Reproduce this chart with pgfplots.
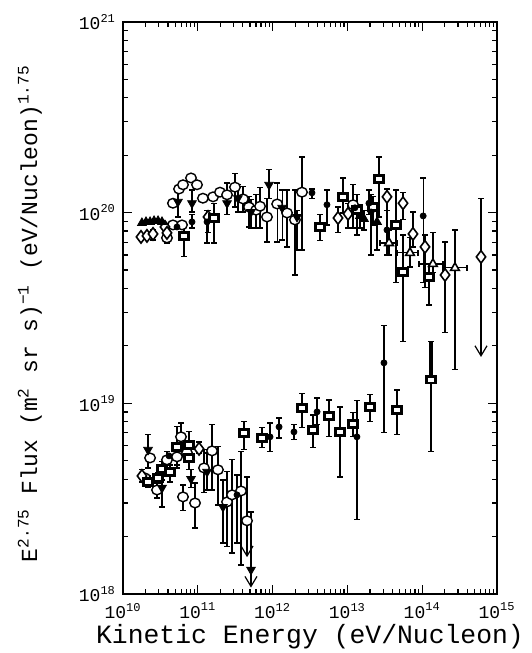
\documentclass[border=0pt]{standalone}
\usepackage{fontspec}
\setmainfont{Liberation Mono}
\usepackage{pgfplots}
\pgfplotsset{compat=1.18}
\usetikzlibrary{arrows.meta}
\begin{document}
\begin{tikzpicture}
\useasboundingbox (-61.5pt,-29.5pt) rectangle (204pt,297pt);
\begin{axis}[
  at={(0,0)}, anchor=south west,
  scale only axis, width=187pt, height=286pt,
  xmode=log, ymode=log,
  xmin=1e10, xmax=1e15, ymin=1e18, ymax=1e21,
  xtick={1e10,1e11,1e12,1e13,1e14,1e15},
  xticklabels={10\textsuperscript{10},10\textsuperscript{11},10\textsuperscript{12},10\textsuperscript{13},10\textsuperscript{14},10\textsuperscript{15}},
  minor xtick={2e10,3e10,4e10,5e10,6e10,7e10,8e10,9e10,2e11,3e11,4e11,5e11,6e11,7e11,8e11,9e11,2e12,3e12,4e12,5e12,6e12,7e12,8e12,9e12,2e13,3e13,4e13,5e13,6e13,7e13,8e13,9e13,2e14,3e14,4e14,5e14,6e14,7e14,8e14,9e14},
  ytick={1e18,1e19,1e20,1e21},
  yticklabels={10\textsuperscript{18},10\textsuperscript{19},10\textsuperscript{20},10\textsuperscript{21}},
  minor ytick={2e18,3e18,4e18,5e18,6e18,7e18,8e18,9e18,2e19,3e19,4e19,5e19,6e19,7e19,8e19,9e19,2e20,3e20,4e20,5e20,6e20,7e20,8e20,9e20},
  tick label style={font=\fontsize{9}{10}\selectfont},
  xticklabel style={yshift=-1pt},
  axis line style={line width=0.8pt},
  major tick length=4.5pt, minor tick length=2.5pt,
  every tick/.style={black, line width=0.6pt},
  xlabel={Kinetic Energy (eV/Nucleon)},
  ylabel={E\textsuperscript{2.75} Flux (m\textsuperscript{2} sr s)\textsuperscript{−1} (eV/Nucleon)\textsuperscript{1.75}},
  xlabel style={at={(axis description cs:0.5,-0.074)}, anchor=center, font=\fontsize{13.2}{15}\selectfont},
  ylabel style={at={(axis description cs:-0.249,0.49)}, anchor=center, font=\fontsize{11.5}{13}\selectfont},
  circ/.style={only marks, mark=*, mark size=2.4pt, mark options={fill=white, draw=black, line width=0.7pt, xscale=1.1}},
  dtri/.style={only marks, mark=triangle*, mark size=2.5pt, mark options={rotate=180, fill=black, draw=black}},
  utri/.style={only marks, mark=triangle*, mark size=2.5pt, mark options={fill=black, draw=black}},
  otri/.style={only marks, mark=triangle*, mark size=2.5pt, mark options={fill=white, draw=black, line width=0.8pt}},
  diam/.style={only marks, mark=diamond*, mark size=3.1pt, mark options={fill=white, draw=black, line width=0.8pt}},
  sqr/.style={only marks, mark=square*, mark size=1.7pt, mark options={fill=white, draw=black, line width=1.3pt, xscale=1.3}},
  fcirc/.style={only marks, mark=*, mark size=1.5pt, mark options={fill=black, draw=black}},
  ebar/.style={black, line width=0.6pt, mark=-, mark size=1.4pt, mark options={solid, line width=0.6pt}, unbounded coords=jump},
]
% ---------- vertical error bars (upper group) ----------
\addplot[ebar] coordinates {
(3.87e10,7.83e19) (3.87e10,6.93e19) (3.87e10,nan)
(2.46e11,1.43e20) (2.46e11,9.73e19) (2.46e11,nan)
(3.14e11,1.61e20) (3.14e11,1.07e20) (3.14e11,nan)
(4.02e11,1.37e20) (4.02e11,1.008e20) (4.02e11,nan)
(4.83e11,1.21e20) (4.83e11,8.41e19) (4.83e11,nan)
(6.00e11,1.24e20) (6.00e11,8.31e19) (6.00e11,nan)
(6.79e11,1.35e20) (6.79e11,8.31e19) (6.79e11,nan)
(8.41e11,1.19e20) (8.41e11,7.01e19) (8.41e11,nan)
(1.15e12,1.43e20) (1.15e12,7.01e19) (1.15e12,nan)
(1.56e12,1.315e20) (1.56e12,6.61e19) (1.56e12,nan)
(1.99e12,1.315e20) (1.99e12,4.71e19) (1.99e12,nan)
(2.47e12,1.96e20) (2.47e12,6.37e19) (2.47e12,nan)
(1.19e13,1.40e20) (1.19e13,8.31e19) (1.19e13,nan)
(5.43e10,1.315e20) (5.43e10,9.49e19) (5.43e10,nan)
(8.36e10,1.315e20) (8.36e10,1.008e20) (8.36e10,nan)
(3.44e11,1.40e20) (3.44e11,1.008e20) (3.44e11,nan)
(5.14e11,1.17e20) (5.14e11,8.31e19) (5.14e11,nan)
(8.96e11,1.69e20) (8.96e11,1.19e20) (8.96e11,nan)
(1.34e12,1.315e20) (1.34e12,7.19e19) (1.34e12,nan)
(2.12e12,1.03e20) (2.12e12,6.37e19) (2.12e12,nan)
(2.52e10,8.11e19) (2.52e10,7.19e19) (2.52e10,nan)
(1.37e11,1.03e20) (1.37e11,7.83e19) (1.37e11,nan)
(7.49e12,1.07e20) (7.49e12,7.83e19) (7.49e12,nan)
(1.02e13,1.12e20) (1.02e13,8.31e19) (1.02e13,nan)
(3.38e13,1.33e20) (3.38e13,1.03e20) (3.38e13,nan)
(5.54e13,1.28e20) (5.54e13,9.16e19) (5.54e13,nan)
(7.53e13,1.008e20) (7.53e13,6.61e19) (7.53e13,nan)
(1.09e14,7.64e19) (1.09e14,4.03e19) (1.09e14,nan)
(2.02e14,7.01e19) (2.02e14,2.34e19) (2.02e14,nan)
(1.47e13,1.10e20) (1.47e13,8.31e19) (1.47e13,nan)
(1.67e13,1.03e20) (1.67e13,8.11e19) (1.67e13,nan)
(2.49e13,1.10e20) (2.49e13,6.37e19) (2.49e13,nan)
(3.60e13,8.11e19) (3.60e13,6.00e19) (3.60e13,nan)
(6.87e13,7.37e19) (6.87e13,5.19e19) (6.87e13,nan)
(1.39e14,7.83e19) (1.39e14,4.83e19) (1.39e14,nan)
(2.74e14,8.11e19) (2.74e14,1.50e19) (2.74e14,nan)
(6.54e10,8.41e19) (6.54e10,5.86e19) (6.54e10,nan)
(1.65e11,1.12e20) (1.65e11,6.93e19) (1.65e11,nan)
(4.31e12,9.73e19) (4.31e12,7.11e19) (4.31e12,nan)
(8.73e12,1.52e20) (8.73e12,9.96e19) (8.73e12,nan)
(1.34e13,1.24e20) (1.34e13,7.64e19) (1.34e13,nan)
(2.20e13,1.21e20) (2.20e13,8.62e19) (2.20e13,nan)
(2.64e13,1.96e20) (2.64e13,9.49e19) (2.64e13,nan)
(4.47e13,1.315e20) (4.47e13,4.28e19) (4.47e13,nan)
(5.54e13,7.64e19) (5.54e13,2.10e19) (5.54e13,nan)
(1.23e14,5.32e19) (1.23e14,3.28e19) (1.23e14,nan)
(8.36e10,9.73e19) (8.36e10,8.31e19) (8.36e10,nan)
(1.33e11,1.03e20) (1.33e11,6.93e19) (1.33e11,nan)
(3.36e12,1.33e20) (3.36e12,1.19e20) (3.36e12,nan)
(5.33e12,1.315e20) (5.33e12,8.62e19) (5.33e12,nan)
(1.94e13,1.315e20) (1.94e13,9.73e19) (1.94e13,nan)
(2.07e13,1.24e20) (2.07e13,6.00e19) (2.07e13,nan)
(3.38e13,1.03e20) (3.38e13,6.00e19) (3.38e13,nan)
(1.03e14,1.52e20) (1.03e14,4.28e19) (1.03e14,nan)
};
% ---------- vertical error bars (lower group) ----------
\addplot[ebar] coordinates {
(1.79e10,4.48e18) (1.79e10,3.87e18) (1.79e10,nan)
(2.16e10,4.16e18) (2.16e10,3.60e18) (2.16e10,nan)
(2.16e10,6.83e18) (2.16e10,4.58e18) (2.16e10,nan)
(2.85e10,3.82e18) (2.85e10,3.19e18) (2.85e10,nan)
(2.94e10,4.32e18) (2.94e10,3.82e18) (2.94e10,nan)
(3.32e10,3.96e18) (3.32e10,2.86e18) (3.32e10,nan)
(3.32e10,4.93e18) (3.32e10,4.21e18) (3.32e10,nan)
(3.87e10,5.56e18) (3.87e10,4.58e18) (3.87e10,nan)
(4.25e10,4.75e18) (4.25e10,3.87e18) (4.25e10,nan)
(5.27e10,5.91e18) (5.27e10,4.58e18) (5.27e10,nan)
(5.27e10,7.52e18) (5.27e10,4.75e18) (5.27e10,nan)
(5.96e10,7.89e18) (5.96e10,5.56e18) (5.96e10,nan)
(6.34e10,3.73e18) (6.34e10,2.73e18) (6.34e10,nan)
(7.62e10,7.08e18) (7.62e10,4.48e18) (7.62e10,nan)
(8.11e10,4.48e18) (8.11e10,3.60e18) (8.11e10,nan)
(9.18e10,3.82e18) (9.18e10,2.22e18) (9.18e10,nan)
(1.04e11,6.27e18) (1.04e11,5.49e18) (1.04e11,nan)
(1.21e11,5.70e18) (1.21e11,3.39e18) (1.21e11,nan)
(1.33e11,5.49e18) (1.33e11,3.51e18) (1.33e11,nan)
(1.55e11,7.71e18) (1.55e11,3.51e18) (1.55e11,nan)
(1.86e11,5.91e18) (1.86e11,2.93e18) (1.86e11,nan)
(2.17e11,3.96e18) (2.17e11,1.85e18) (2.17e11,nan)
(2.46e11,4.37e18) (2.46e11,1.77e18) (2.46e11,nan)
(2.87e11,5.05e18) (2.87e11,1.64e18) (2.87e11,nan)
(3.34e11,4.21e18) (3.34e11,1.85e18) (3.34e11,nan)
(3.78e11,5.56e18) (3.78e11,1.42e18) (3.78e11,nan)
(4.15e11,7.99e18) (4.15e11,5.70e18) (4.15e11,nan)
(7.21e11,7.43e18) (7.21e11,5.84e18) (7.21e11,nan)
(9.23e11,7.89e18) (9.23e11,5.56e18) (9.23e11,nan)
(1.22e12,8.38e18) (1.22e12,6.58e18) (1.22e12,nan)
(1.93e12,7.71e18) (1.93e12,6.43e18) (1.93e12,nan)
(2.47e12,1.13e19) (2.47e12,7.43e18) (2.47e12,nan)
(3.47e12,8.69e18) (3.47e12,5.84e18) (3.47e12,nan)
(3.93e12,1.067e19) (3.93e12,7.71e18) (3.93e12,nan)
(5.68e12,1.04e19) (5.68e12,6.67e18) (5.68e12,nan)
(7.96e12,9.57e18) (7.96e12,4.11e18) (7.96e12,nan)
(1.19e13,8.91e18) (1.19e13,6.67e18) (1.19e13,nan)
(1.34e13,1.03e19) (1.34e13,2.45e18) (1.34e13,nan)
(2.00e13,1.107e19) (2.00e13,7.99e18) (2.00e13,nan)
(3.08e13,2.55e19) (3.08e13,7.00e18) (3.08e13,nan)
(4.60e13,1.175e19) (4.60e13,6.83e18) (4.60e13,nan)
(1.31e14,2.10e19) (1.31e14,5.56e18) (1.31e14,nan)
};
% thick part of the bar
\addplot[black, line width=1.8pt] coordinates {(1.31e14,2.10e19) (1.31e14,1.33e19)};
% ---------- horizontal bars ----------
\addplot[black, line width=0.6pt, mark=|, mark size=1.4pt, mark options={solid}, unbounded coords=jump] coordinates {
(2.73e13,6.93e19) (4.60e13,6.93e19) (nan,6.93e19)
(4.60e13,6.15e19) (8.79e13,6.15e19) (nan,6.15e19)
(9.06e13,5.38e19) (1.90e14,5.38e19) (nan,5.38e19)
(1.90e14,5.13e19) (3.97e14,5.13e19)
};
% ---------- upper limits (arrows) ----------
\addplot[black, line width=0.6pt, -{Straight Barb[length=5pt, width=6pt]}] coordinates {(6.11e14,1.19e20) (6.11e14,1.75e19)};
\addplot[black, line width=0.6pt, -{Straight Barb[length=5pt, width=6pt]}] coordinates {(4.55e11,4.11e18) (4.55e11,1.56e18)};
\addplot[black, line width=0.6pt, -{Straight Barb[length=5pt, width=6pt]}] coordinates {(5.14e11,2.69e18) (5.14e11,1.08e18)};
\addplot[only marks, mark=-, mark size=1.4pt, mark options={black, line width=0.6pt}] coordinates {(6.11e14,1.19e20) (4.55e11,4.11e18) (5.14e11,2.69e18)};
% ---------- markers: upper group ----------
\addplot[circ] coordinates {
(4.65e10,8.62e19) (6.15e10,8.62e19) (3.87e10,7.37e19) (4.65e10,1.12e20)
(5.61e10,1.33e20) (6.34e10,1.40e20) (8.11e10,1.52e20) (9.76e10,1.40e20)
(1.17e11,1.19e20) (1.60e11,1.21e20) (1.98e11,1.28e20) (2.46e11,1.24e20)
(3.14e11,1.36e20) (4.02e11,1.18e20) (4.83e11,1.07e20) (6.00e11,1.03e20)
(6.79e11,1.08e20) (8.41e11,9.49e19) (1.15e12,1.11e20) (1.56e12,9.96e19)
(1.99e12,9.16e19) (2.47e12,1.28e20) (1.19e13,1.10e20)
};
\addplot[dtri] coordinates {
(5.43e10,1.14e20) (8.36e10,1.12e20) (2.46e11,1.12e20) (3.44e11,1.19e20)
(5.14e11,1.008e20) (8.96e11,1.40e20) (1.34e12,1.06e20) (2.12e12,9.49e19)
};
\addplot[diam] coordinates {
(1.74e10,7.46e19) (2.09e10,7.55e19) (2.52e10,7.73e19) (3.64e10,8.41e19)
(3.87e10,7.83e19) (1.37e11,9.49e19) (7.49e12,9.37e19) (1.02e13,9.85e19)
(3.38e13,1.21e20) (5.54e13,1.12e20) (7.53e13,7.73e19) (1.09e14,6.61e19)
(2.02e14,4.71e19) (6.11e14,5.86e19)
};
\addplot[utri] coordinates {
(1.79e10,8.83e19) (2.03e10,8.94e19) (2.30e10,8.94e19) (2.60e10,9.05e19)
(2.94e10,9.05e19) (3.32e10,8.94e19) (1.47e13,9.61e19) (1.67e13,9.26e19)
(2.49e13,8.94e19)
};
\addplot[otri] coordinates {
(3.60e13,6.93e19) (6.87e13,6.15e19) (1.39e14,5.38e19) (2.74e14,5.13e19)
};
\addplot[sqr] coordinates {
(6.54e10,7.55e19) (1.65e11,9.37e19) (4.31e12,8.41e19) (8.73e12,1.21e20)
(1.34e13,1.03e20) (2.20e13,1.07e20) (2.64e13,1.50e20) (4.47e13,8.62e19)
(5.54e13,4.89e19) (1.23e14,4.60e19)
};
\addplot[fcirc] coordinates {
(5.27e10,8.41e19) (8.36e10,8.94e19) (1.33e11,8.94e19) (3.36e12,1.27e20)
(5.33e12,1.10e20) (1.26e13,1.06e20) (1.94e13,1.12e20) (2.07e13,1.008e20)
(3.38e13,8.11e19) (1.03e14,9.61e19)
};
% ---------- markers: lower group ----------
\addplot[circ] coordinates {
(1.97e10,4.06e18) (2.30e10,5.17e18) (2.85e10,3.51e18) (3.87e10,5.05e18)
(5.27e10,5.24e18) (5.96e10,6.67e18) (6.34e10,3.23e18) (7.17e10,5.49e18)
(9.18e10,3.00e18) (1.21e11,4.58e18) (1.55e11,5.63e18) (1.86e11,4.48e18)
(2.46e11,3.04e18) (2.87e11,3.31e18) (3.78e11,3.47e18) (4.55e11,2.42e18)
};
\addplot[dtri] coordinates {
(2.16e10,5.70e18) (3.32e10,3.60e18) (8.11e10,4.01e18) (1.33e11,4.37e18)
(2.17e11,2.86e18) (5.14e11,1.34e18)
};
\addplot[diam] coordinates {
(1.79e10,4.16e18) (1.04e11,5.77e18)
};
\addplot[sqr] coordinates {
(2.16e10,3.87e18) (2.94e10,4.06e18) (3.32e10,4.53e18) (4.25e10,4.37e18)
(5.27e10,5.91e18) (7.62e10,6.05e18) (7.62e10,5.17e18) (4.15e11,7.00e18)
(7.21e11,6.58e18) (2.47e12,9.46e18) (3.47e12,7.25e18) (5.68e12,8.59e18)
(7.96e12,7.08e18) (1.19e13,7.80e18) (2.00e13,9.57e18) (4.60e13,9.23e18)
(1.31e14,1.33e19)
};
\addplot[fcirc] coordinates {
(4.12e10,5.30e18) (3.34e11,3.31e18) (9.23e11,6.67e18) (1.22e12,7.52e18)
(1.93e12,7.08e18) (3.93e12,9.02e18) (1.34e13,6.67e18) (3.08e13,1.63e19)
};
\end{axis}
\end{tikzpicture}
\end{document}
